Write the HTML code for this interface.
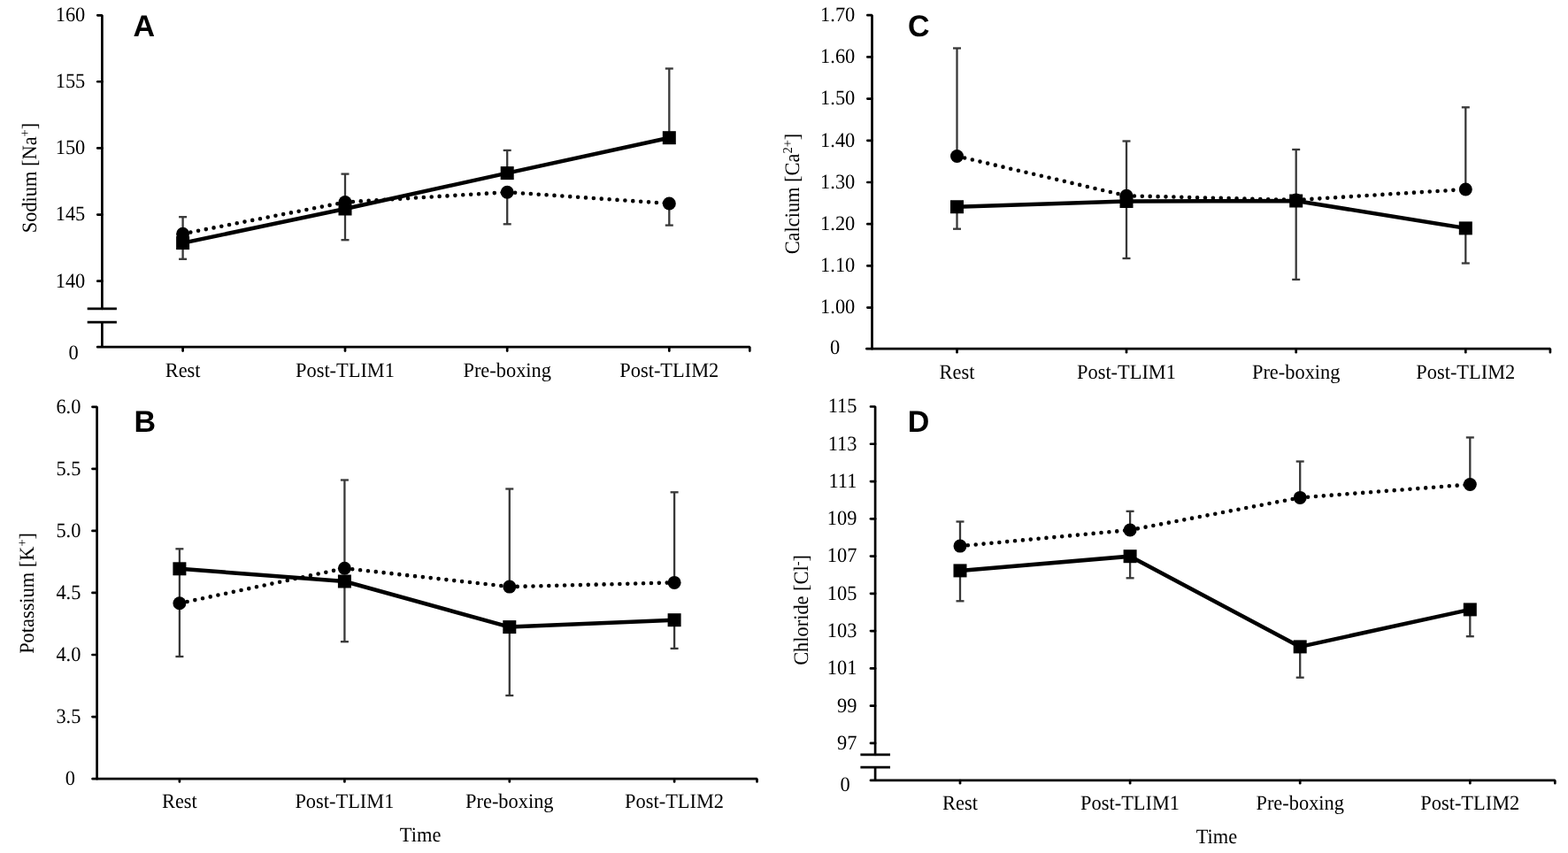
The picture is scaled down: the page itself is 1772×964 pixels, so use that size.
<!DOCTYPE html>
<html><head><meta charset="utf-8"><title>Electrolytes</title>
<style>
html,body{margin:0;padding:0;background:#fff;}
body{width:1772px;height:964px;overflow:hidden;}
svg{display:block;text-rendering:geometricPrecision;}
.ax{stroke:#000;stroke-width:2.7;fill:none;stroke-linecap:butt;}
.axp{stroke:#000;stroke-width:2.7;fill:none;stroke-linecap:round;stroke-linejoin:bevel;}
.axr{stroke:#000;stroke-width:2.7;fill:none;stroke-linecap:round;}
.er{stroke:#383838;stroke-width:2.3;fill:none;}
.sl{stroke:#000;stroke-width:4.5;fill:none;stroke-linejoin:round;}
.dl{stroke:#000;stroke-width:4.6;fill:none;stroke-linecap:round;stroke-dasharray:0 8.9;}
.tl{font-family:"Liberation Serif","Times New Roman",serif;font-size:22.4px;fill:#000;}
.yl{font-family:"Liberation Serif","Times New Roman",serif;font-size:22.4px;fill:#000;}
.tt{font-family:"Liberation Serif","Times New Roman",serif;font-size:22.4px;fill:#000;}
.sup{font-size:14.5px;}
.let{font-family:"Liberation Sans",Arial,sans-serif;font-weight:bold;font-size:34px;fill:#000;}
</style></head>
<body>
<svg width="1772" height="964" viewBox="0 0 1772 964">
<rect width="1772" height="964" fill="#fff"/>
<path d="M110.25 17.3H115.4V348.8" class="axp"/>
<line x1="115.4" y1="364.1" x2="115.4" y2="392.2" class="ax"/>
<line x1="98.7" y1="348.8" x2="131.9" y2="348.8" class="ax"/>
<line x1="98.7" y1="364.1" x2="131.9" y2="364.1" class="ax"/>
<text transform="translate(96.3,24.15) scale(1,1.045)" class="yl" text-anchor="end">160</text>
<line x1="110.25" y1="92.25" x2="115.4" y2="92.25" class="axr"/>
<text transform="translate(96.3,99.1) scale(1,1.045)" class="yl" text-anchor="end">155</text>
<line x1="110.25" y1="167.4" x2="115.4" y2="167.4" class="axr"/>
<text transform="translate(96.3,174.25) scale(1,1.045)" class="yl" text-anchor="end">150</text>
<line x1="110.25" y1="242.55" x2="115.4" y2="242.55" class="axr"/>
<text transform="translate(96.3,249.4) scale(1,1.045)" class="yl" text-anchor="end">145</text>
<line x1="110.25" y1="317.7" x2="115.4" y2="317.7" class="axr"/>
<text transform="translate(96.3,324.55) scale(1,1.045)" class="yl" text-anchor="end">140</text>
<text transform="translate(88.8,406.1) scale(1,1.045)" class="yl" text-anchor="end">0</text>
<path d="M110.15 392.2H847.3V396.55" class="axp"/>
<line x1="206.6" y1="392.5" x2="206.6" y2="396.55" class="axr"/>
<text transform="translate(206.6,426) scale(1,1.045)" class="tl" text-anchor="middle">Rest</text>
<line x1="390" y1="392.5" x2="390" y2="396.55" class="axr"/>
<text transform="translate(390,426) scale(1,1.045)" class="tl" text-anchor="middle">Post-TLIM1</text>
<line x1="573.2" y1="392.5" x2="573.2" y2="396.55" class="axr"/>
<text transform="translate(573.2,426) scale(1,1.045)" class="tl" text-anchor="middle">Pre-boxing</text>
<line x1="756.3" y1="392.5" x2="756.3" y2="396.55" class="axr"/>
<text transform="translate(756.3,426) scale(1,1.045)" class="tl" text-anchor="middle">Post-TLIM2</text>
<text x="150.5" y="41.2" class="let">A</text>
<text transform="translate(40.7,201) rotate(-90) scale(1,1.045)" class="tt" text-anchor="middle">Sodium [Na<tspan class="sup" dy="-7.2">+</tspan><tspan dy="7.2">]</tspan></text>
<line x1="206.6" y1="264.2" x2="206.6" y2="245.2" class="er"/>
<line x1="202.1" y1="245.2" x2="211.1" y2="245.2" class="er"/>
<line x1="206.6" y1="274.6" x2="206.6" y2="292.8" class="er"/>
<line x1="202.1" y1="292.8" x2="211.1" y2="292.8" class="er"/>
<line x1="390" y1="228.5" x2="390" y2="196.6" class="er"/>
<line x1="385.5" y1="196.6" x2="394.5" y2="196.6" class="er"/>
<line x1="390" y1="236" x2="390" y2="271.2" class="er"/>
<line x1="385.5" y1="271.2" x2="394.5" y2="271.2" class="er"/>
<line x1="573.2" y1="217.2" x2="573.2" y2="253.3" class="er"/>
<line x1="568.7" y1="253.3" x2="577.7" y2="253.3" class="er"/>
<line x1="573.2" y1="195.6" x2="573.2" y2="169.9" class="er"/>
<line x1="568.7" y1="169.9" x2="577.7" y2="169.9" class="er"/>
<line x1="756.3" y1="230" x2="756.3" y2="254.6" class="er"/>
<line x1="751.8" y1="254.6" x2="760.8" y2="254.6" class="er"/>
<line x1="756.3" y1="155.7" x2="756.3" y2="77.5" class="er"/>
<line x1="751.8" y1="77.5" x2="760.8" y2="77.5" class="er"/>
<line x1="206.6" y1="264.2" x2="390" y2="228.5" class="dl"/>
<line x1="390" y1="228.5" x2="573.2" y2="217.2" class="dl"/>
<line x1="573.2" y1="217.2" x2="756.3" y2="230" class="dl"/>
<polyline points="206.6,274.6 390,236 573.2,195.6 756.3,155.7" class="sl"/>
<circle cx="206.6" cy="264.2" r="7.5"/>
<circle cx="390" cy="228.5" r="7.5"/>
<circle cx="573.2" cy="217.2" r="7.5"/>
<circle cx="756.3" cy="230" r="7.5"/>
<rect x="199.1" y="267.1" width="15" height="15"/>
<rect x="382.5" y="228.5" width="15" height="15"/>
<rect x="565.7" y="188.1" width="15" height="15"/>
<rect x="748.8" y="148.2" width="15" height="15"/>
<path d="M104.45 459.8H109.6V880.2" class="axp"/>
<text transform="translate(91.4,466.65) scale(1,1.045)" class="yl" text-anchor="end">6.0</text>
<line x1="104.45" y1="529.85" x2="109.6" y2="529.85" class="axr"/>
<text transform="translate(91.4,536.7) scale(1,1.045)" class="yl" text-anchor="end">5.5</text>
<line x1="104.45" y1="599.9" x2="109.6" y2="599.9" class="axr"/>
<text transform="translate(91.4,606.75) scale(1,1.045)" class="yl" text-anchor="end">5.0</text>
<line x1="104.45" y1="669.95" x2="109.6" y2="669.95" class="axr"/>
<text transform="translate(91.4,676.8) scale(1,1.045)" class="yl" text-anchor="end">4.5</text>
<line x1="104.45" y1="740" x2="109.6" y2="740" class="axr"/>
<text transform="translate(91.4,746.85) scale(1,1.045)" class="yl" text-anchor="end">4.0</text>
<line x1="104.45" y1="810.05" x2="109.6" y2="810.05" class="axr"/>
<text transform="translate(91.4,816.9) scale(1,1.045)" class="yl" text-anchor="end">3.5</text>
<text transform="translate(84.9,887.1) scale(1,1.045)" class="yl" text-anchor="end">0</text>
<path d="M104.55 880.2H855.5V883.45" class="axp"/>
<line x1="202.9" y1="880.5" x2="202.9" y2="883.45" class="axr"/>
<text transform="translate(202.9,912.8) scale(1,1.045)" class="tl" text-anchor="middle">Rest</text>
<line x1="389.4" y1="880.5" x2="389.4" y2="883.45" class="axr"/>
<text transform="translate(389.4,912.8) scale(1,1.045)" class="tl" text-anchor="middle">Post-TLIM1</text>
<line x1="575.8" y1="880.5" x2="575.8" y2="883.45" class="axr"/>
<text transform="translate(575.8,912.8) scale(1,1.045)" class="tl" text-anchor="middle">Pre-boxing</text>
<line x1="762.1" y1="880.5" x2="762.1" y2="883.45" class="axr"/>
<text transform="translate(762.1,912.8) scale(1,1.045)" class="tl" text-anchor="middle">Post-TLIM2</text>
<text x="151.5" y="487.9" class="let">B</text>
<text transform="translate(37.6,670.4) rotate(-90) scale(1,1.045)" class="tt" text-anchor="middle">Potassium [K<tspan class="sup" dy="-7.2">+</tspan><tspan dy="7.2">]</tspan></text>
<text transform="translate(475.1,951.3) scale(1,1.045)" class="tl" text-anchor="middle">Time</text>
<line x1="202.9" y1="681.8" x2="202.9" y2="742" class="er"/>
<line x1="198.4" y1="742" x2="207.4" y2="742" class="er"/>
<line x1="202.9" y1="642.8" x2="202.9" y2="620.3" class="er"/>
<line x1="198.4" y1="620.3" x2="207.4" y2="620.3" class="er"/>
<line x1="202.9" y1="681.8" x2="202.9" y2="642.8" class="er"/>
<line x1="389.4" y1="642.2" x2="389.4" y2="542.5" class="er"/>
<line x1="384.9" y1="542.5" x2="393.9" y2="542.5" class="er"/>
<line x1="389.4" y1="657" x2="389.4" y2="725.2" class="er"/>
<line x1="384.9" y1="725.2" x2="393.9" y2="725.2" class="er"/>
<line x1="575.8" y1="663.1" x2="575.8" y2="552.5" class="er"/>
<line x1="571.3" y1="552.5" x2="580.3" y2="552.5" class="er"/>
<line x1="575.8" y1="708.6" x2="575.8" y2="786" class="er"/>
<line x1="571.3" y1="786" x2="580.3" y2="786" class="er"/>
<line x1="762.1" y1="658.4" x2="762.1" y2="556.3" class="er"/>
<line x1="757.6" y1="556.3" x2="766.6" y2="556.3" class="er"/>
<line x1="762.1" y1="700.7" x2="762.1" y2="732.9" class="er"/>
<line x1="757.6" y1="732.9" x2="766.6" y2="732.9" class="er"/>
<line x1="202.9" y1="681.8" x2="389.4" y2="642.2" class="dl"/>
<line x1="389.4" y1="642.2" x2="575.8" y2="663.1" class="dl"/>
<line x1="575.8" y1="663.1" x2="762.1" y2="658.4" class="dl"/>
<polyline points="202.9,642.8 389.4,657 575.8,708.6 762.1,700.7" class="sl"/>
<circle cx="202.9" cy="681.8" r="7.5"/>
<circle cx="389.4" cy="642.2" r="7.5"/>
<circle cx="575.8" cy="663.1" r="7.5"/>
<circle cx="762.1" cy="658.4" r="7.5"/>
<rect x="195.4" y="635.3" width="15" height="15"/>
<rect x="381.9" y="649.5" width="15" height="15"/>
<rect x="568.3" y="701.1" width="15" height="15"/>
<rect x="754.6" y="693.2" width="15" height="15"/>
<path d="M980.35 17.2H985.5V394.2" class="axp"/>
<text transform="translate(966.3,24.05) scale(1,1.045)" class="yl" text-anchor="end">1.70</text>
<line x1="980.35" y1="64.4" x2="985.5" y2="64.4" class="axr"/>
<text transform="translate(966.3,71.25) scale(1,1.045)" class="yl" text-anchor="end">1.60</text>
<line x1="980.35" y1="111.6" x2="985.5" y2="111.6" class="axr"/>
<text transform="translate(966.3,118.45) scale(1,1.045)" class="yl" text-anchor="end">1.50</text>
<line x1="980.35" y1="158.8" x2="985.5" y2="158.8" class="axr"/>
<text transform="translate(966.3,165.65) scale(1,1.045)" class="yl" text-anchor="end">1.40</text>
<line x1="980.35" y1="206" x2="985.5" y2="206" class="axr"/>
<text transform="translate(966.3,212.85) scale(1,1.045)" class="yl" text-anchor="end">1.30</text>
<line x1="980.35" y1="253.2" x2="985.5" y2="253.2" class="axr"/>
<text transform="translate(966.3,260.05) scale(1,1.045)" class="yl" text-anchor="end">1.20</text>
<line x1="980.35" y1="300.4" x2="985.5" y2="300.4" class="axr"/>
<text transform="translate(966.3,307.25) scale(1,1.045)" class="yl" text-anchor="end">1.10</text>
<line x1="980.35" y1="347.6" x2="985.5" y2="347.6" class="axr"/>
<text transform="translate(966.3,354.45) scale(1,1.045)" class="yl" text-anchor="end">1.00</text>
<text transform="translate(949.1,399.5) scale(1,1.045)" class="yl" text-anchor="end">0</text>
<path d="M979.35 394.2H1751.9V398.15" class="axp"/>
<line x1="1081.5" y1="394.5" x2="1081.5" y2="398.15" class="axr"/>
<text transform="translate(1081.5,427.6) scale(1,1.045)" class="tl" text-anchor="middle">Rest</text>
<line x1="1273" y1="394.5" x2="1273" y2="398.15" class="axr"/>
<text transform="translate(1273,427.6) scale(1,1.045)" class="tl" text-anchor="middle">Post-TLIM1</text>
<line x1="1464.7" y1="394.5" x2="1464.7" y2="398.15" class="axr"/>
<text transform="translate(1464.7,427.6) scale(1,1.045)" class="tl" text-anchor="middle">Pre-boxing</text>
<line x1="1656.3" y1="394.5" x2="1656.3" y2="398.15" class="axr"/>
<text transform="translate(1656.3,427.6) scale(1,1.045)" class="tl" text-anchor="middle">Post-TLIM2</text>
<text x="1026" y="41" class="let">C</text>
<text transform="translate(902.9,219) rotate(-90) scale(1,1.045)" class="tt" text-anchor="middle">Calcium [Ca<tspan class="sup" dy="-7.2">2+</tspan><tspan dy="7.2">]</tspan></text>
<line x1="1081.5" y1="176.5" x2="1081.5" y2="54.5" class="er"/>
<line x1="1077" y1="54.5" x2="1086" y2="54.5" class="er"/>
<line x1="1081.5" y1="233.75" x2="1081.5" y2="258.7" class="er"/>
<line x1="1077" y1="258.7" x2="1086" y2="258.7" class="er"/>
<line x1="1273" y1="221.25" x2="1273" y2="159.5" class="er"/>
<line x1="1268.5" y1="159.5" x2="1277.5" y2="159.5" class="er"/>
<line x1="1273" y1="227.5" x2="1273" y2="292" class="er"/>
<line x1="1268.5" y1="292" x2="1277.5" y2="292" class="er"/>
<line x1="1464.7" y1="226" x2="1464.7" y2="169" class="er"/>
<line x1="1460.2" y1="169" x2="1469.2" y2="169" class="er"/>
<line x1="1464.7" y1="227" x2="1464.7" y2="315.9" class="er"/>
<line x1="1460.2" y1="315.9" x2="1469.2" y2="315.9" class="er"/>
<line x1="1656.3" y1="214" x2="1656.3" y2="121.3" class="er"/>
<line x1="1651.8" y1="121.3" x2="1660.8" y2="121.3" class="er"/>
<line x1="1656.3" y1="257.9" x2="1656.3" y2="297.5" class="er"/>
<line x1="1651.8" y1="297.5" x2="1660.8" y2="297.5" class="er"/>
<line x1="1081.5" y1="176.5" x2="1273" y2="221.25" class="dl"/>
<line x1="1273" y1="221.25" x2="1464.7" y2="226" class="dl"/>
<line x1="1464.7" y1="226" x2="1656.3" y2="214" class="dl"/>
<polyline points="1081.5,233.75 1273,227.5 1464.7,227 1656.3,257.9" class="sl"/>
<circle cx="1081.5" cy="176.5" r="7.5"/>
<circle cx="1273" cy="221.25" r="7.5"/>
<circle cx="1464.7" cy="226" r="7.5"/>
<circle cx="1656.3" cy="214" r="7.5"/>
<rect x="1074" y="226.25" width="15" height="15"/>
<rect x="1265.5" y="220" width="15" height="15"/>
<rect x="1457.2" y="219.5" width="15" height="15"/>
<rect x="1648.8" y="250.4" width="15" height="15"/>
<path d="M983.95 459.5H989.1V852.8" class="axp"/>
<line x1="989.1" y1="867.1" x2="989.1" y2="881.9" class="ax"/>
<line x1="972.4" y1="852.8" x2="1006" y2="852.8" class="ax"/>
<line x1="972.4" y1="867.1" x2="1006" y2="867.1" class="ax"/>
<text transform="translate(968.4,466.35) scale(1,1.045)" class="yl" text-anchor="end">115</text>
<line x1="983.95" y1="501.77" x2="989.1" y2="501.77" class="axr"/>
<text transform="translate(968.4,508.62) scale(1,1.045)" class="yl" text-anchor="end">113</text>
<line x1="983.95" y1="544.04" x2="989.1" y2="544.04" class="axr"/>
<text transform="translate(968.4,550.89) scale(1,1.045)" class="yl" text-anchor="end">111</text>
<line x1="983.95" y1="586.31" x2="989.1" y2="586.31" class="axr"/>
<text transform="translate(968.4,593.16) scale(1,1.045)" class="yl" text-anchor="end">109</text>
<line x1="983.95" y1="628.58" x2="989.1" y2="628.58" class="axr"/>
<text transform="translate(968.4,635.43) scale(1,1.045)" class="yl" text-anchor="end">107</text>
<line x1="983.95" y1="670.85" x2="989.1" y2="670.85" class="axr"/>
<text transform="translate(968.4,677.7) scale(1,1.045)" class="yl" text-anchor="end">105</text>
<line x1="983.95" y1="713.12" x2="989.1" y2="713.12" class="axr"/>
<text transform="translate(968.4,719.97) scale(1,1.045)" class="yl" text-anchor="end">103</text>
<line x1="983.95" y1="755.39" x2="989.1" y2="755.39" class="axr"/>
<text transform="translate(968.4,762.24) scale(1,1.045)" class="yl" text-anchor="end">101</text>
<line x1="983.95" y1="797.66" x2="989.1" y2="797.66" class="axr"/>
<text transform="translate(968.4,804.51) scale(1,1.045)" class="yl" text-anchor="end">99</text>
<line x1="983.95" y1="839.93" x2="989.1" y2="839.93" class="axr"/>
<text transform="translate(968.4,846.78) scale(1,1.045)" class="yl" text-anchor="end">97</text>
<text transform="translate(960.7,893.9) scale(1,1.045)" class="yl" text-anchor="end">0</text>
<path d="M983.95 881.9H1757.3V885.15" class="axp"/>
<line x1="1085" y1="882.2" x2="1085" y2="885.15" class="axr"/>
<text transform="translate(1085,915) scale(1,1.045)" class="tl" text-anchor="middle">Rest</text>
<line x1="1277.1" y1="882.2" x2="1277.1" y2="885.15" class="axr"/>
<text transform="translate(1277.1,915) scale(1,1.045)" class="tl" text-anchor="middle">Post-TLIM1</text>
<line x1="1469.2" y1="882.2" x2="1469.2" y2="885.15" class="axr"/>
<text transform="translate(1469.2,915) scale(1,1.045)" class="tl" text-anchor="middle">Pre-boxing</text>
<line x1="1661.3" y1="882.2" x2="1661.3" y2="885.15" class="axr"/>
<text transform="translate(1661.3,915) scale(1,1.045)" class="tl" text-anchor="middle">Post-TLIM2</text>
<text x="1025.7" y="488" class="let">D</text>
<text transform="translate(913.2,689.4) rotate(-90) scale(1,1.045)" class="tt" text-anchor="middle">Chloride [Cl<tspan class="sup" dy="-7.2">-</tspan><tspan dy="7.2">]</tspan></text>
<text transform="translate(1374.9,953.3) scale(1,1.045)" class="tl" text-anchor="middle">Time</text>
<line x1="1085" y1="617.1" x2="1085" y2="589.5" class="er"/>
<line x1="1080.5" y1="589.5" x2="1089.5" y2="589.5" class="er"/>
<line x1="1085" y1="644.9" x2="1085" y2="679.3" class="er"/>
<line x1="1080.5" y1="679.3" x2="1089.5" y2="679.3" class="er"/>
<line x1="1277.1" y1="599" x2="1277.1" y2="577.8" class="er"/>
<line x1="1272.6" y1="577.8" x2="1281.6" y2="577.8" class="er"/>
<line x1="1277.1" y1="628.7" x2="1277.1" y2="653.3" class="er"/>
<line x1="1272.6" y1="653.3" x2="1281.6" y2="653.3" class="er"/>
<line x1="1469.2" y1="562.4" x2="1469.2" y2="521.5" class="er"/>
<line x1="1464.7" y1="521.5" x2="1473.7" y2="521.5" class="er"/>
<line x1="1469.2" y1="730.9" x2="1469.2" y2="765.7" class="er"/>
<line x1="1464.7" y1="765.7" x2="1473.7" y2="765.7" class="er"/>
<line x1="1661.3" y1="547.5" x2="1661.3" y2="494.4" class="er"/>
<line x1="1656.8" y1="494.4" x2="1665.8" y2="494.4" class="er"/>
<line x1="1661.3" y1="688.9" x2="1661.3" y2="719.2" class="er"/>
<line x1="1656.8" y1="719.2" x2="1665.8" y2="719.2" class="er"/>
<line x1="1085" y1="617.1" x2="1277.1" y2="599" class="dl"/>
<line x1="1277.1" y1="599" x2="1469.2" y2="562.4" class="dl"/>
<line x1="1469.2" y1="562.4" x2="1661.3" y2="547.5" class="dl"/>
<polyline points="1085,644.9 1277.1,628.7 1469.2,730.9 1661.3,688.9" class="sl"/>
<circle cx="1085" cy="617.1" r="7.5"/>
<circle cx="1277.1" cy="599" r="7.5"/>
<circle cx="1469.2" cy="562.4" r="7.5"/>
<circle cx="1661.3" cy="547.5" r="7.5"/>
<rect x="1077.5" y="637.4" width="15" height="15"/>
<rect x="1269.6" y="621.2" width="15" height="15"/>
<rect x="1461.7" y="723.4" width="15" height="15"/>
<rect x="1653.8" y="681.4" width="15" height="15"/>
</svg>
</body></html>
